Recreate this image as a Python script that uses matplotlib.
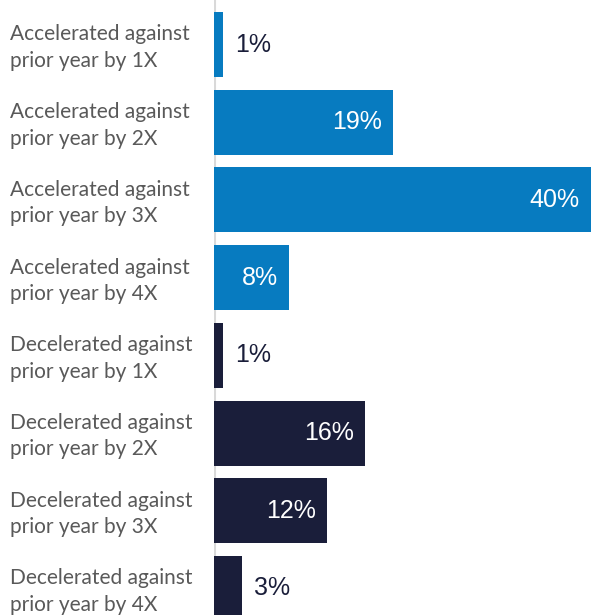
import matplotlib.pyplot as plt
import matplotlib.transforms as mtransforms

categories = [
    "Accelerated against\nprior year by 1X",
    "Accelerated against\nprior year by 2X",
    "Accelerated against\nprior year by 3X",
    "Accelerated against\nprior year by 4X",
    "Decelerated against\nprior year by 1X",
    "Decelerated against\nprior year by 2X",
    "Decelerated against\nprior year by 3X",
    "Decelerated against\nprior year by 4X",
]
shares = [1, 19, 40, 8, 1, 16, 12, 3]  # percent
groups = ["acc", "acc", "acc", "acc", "dec", "dec", "dec", "dec"]

colors = {"acc": "#077bc0", "dec": "#1a1e3a"}

fig = plt.figure(figsize=(5.91, 6.15), dpi=100)
ax = fig.add_axes([214 / 591, 0, 1 - 214 / 591, 1])

ypos = list(range(len(categories)))
ax.barh(ypos, shares, height=0.837, color=[colors[g] for g in groups])
ax.set_xlim(0, 40)
ax.set_ylim(7.342, -0.573)

for s in ax.spines.values():
    s.set_visible(False)
ax.axvline(0, color="#d9d9d9", lw=2.2, zorder=0)
ax.set_xticks([])
ax.set_yticks([])

for y, v in zip(ypos, shares):
    if v >= 5:
        ax.annotate(f"{v}%", (v, y), xytext=(-11, 0), textcoords="offset pixels",
                    ha="right", va="center", color="white", fontsize=18,
                    family="Liberation Sans")
    else:
        ax.annotate(f"{v}%", (v, y), xytext=(12, 0), textcoords="offset pixels",
                    ha="left", va="center", color="#1a1e3a", fontsize=18,
                    family="Liberation Sans")

trans = mtransforms.blended_transform_factory(fig.transFigure, ax.transData)
for y, label in zip(ypos, categories):
    ax.text(10 / 591, y + 0.04, label, transform=trans, ha="left", va="center",
            color="#595959", fontsize=15, family="Lato", linespacing=1.4)

fig.savefig("out.png", dpi=100)
